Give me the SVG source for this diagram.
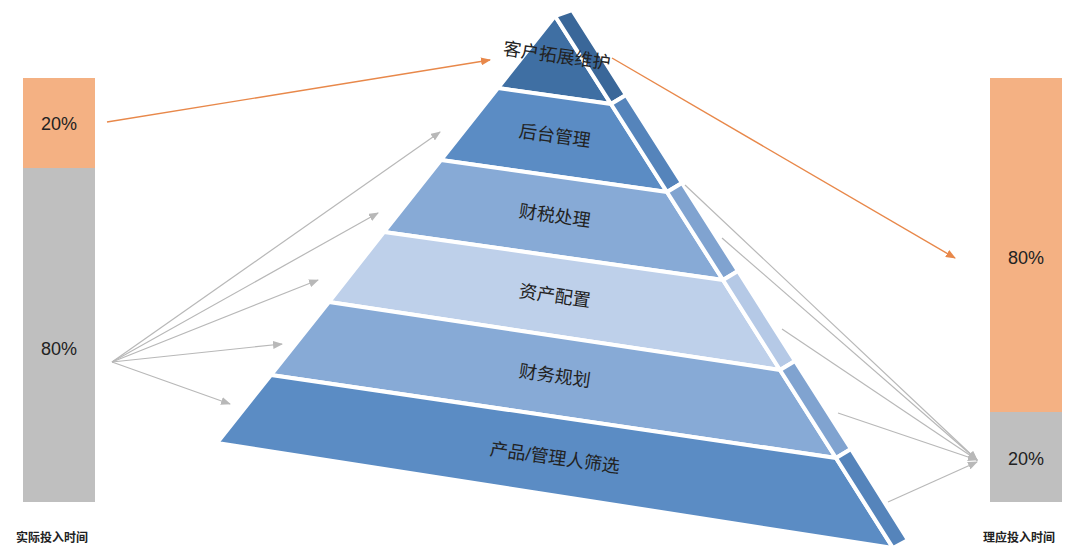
<svg xmlns="http://www.w3.org/2000/svg" width="1080" height="555" viewBox="0 0 1080 555">
<defs>
<style>
.b{stroke:#fff;stroke-width:4;stroke-linejoin:round}
.t{font-family:"Liberation Sans","Noto Sans CJK SC",sans-serif;font-size:18px;fill:#222}
.p{font-family:"Liberation Sans","Noto Sans CJK SC",sans-serif;font-size:18px;fill:#222;text-anchor:middle}
.c{font-family:"Noto Sans CJK SC",sans-serif;font-size:12px;font-weight:bold;fill:#222}
.g{stroke:#b8b8b8;stroke-width:1.2;fill:none}
.o{stroke:#e8884a;stroke-width:1.4;fill:none}
</style>
<marker id="ag" markerWidth="10" markerHeight="8" refX="9" refY="4" orient="auto" markerUnits="userSpaceOnUse"><path d="M0,0L10,4L0,8z" fill="#b8b8b8"/></marker>
<marker id="ao" markerWidth="10" markerHeight="8" refX="9" refY="4" orient="auto" markerUnits="userSpaceOnUse"><path d="M0,0L10,4L0,8z" fill="#e8884a"/></marker>
</defs>
<rect width="1080" height="555" fill="#fff"/>
<g id="bar-left">
<rect x="23" y="78" width="72" height="90" fill="#f4b183"/>
<rect x="23" y="168" width="72" height="334" fill="#bfbfbf"/>
<text class="p" x="59" y="130">20%</text>
<text class="p" x="59" y="355">80%</text>
<text class="c" x="16" y="542">实际投入时间</text>
</g>
<g id="bar-right">
<rect x="990" y="78" width="72" height="334" fill="#f4b183"/>
<rect x="990" y="412" width="72" height="90" fill="#bfbfbf"/>
<text class="p" x="1026" y="264">80%</text>
<text class="p" x="1026" y="465">20%</text>
<text class="c" x="983" y="542">理应投入时间</text>
</g>
<g id="pyramid">
<polygon class="b" fill="#3f6fa3" points="555,16 611,104 498,88"/>
<polygon class="b" fill="#3a6799" points="555,16 572,10 626,95 611,104"/>
<polygon class="b" fill="#5b8cc4" points="498,88 611,104 667,192 441,160"/>
<polygon class="b" fill="#5584bb" points="611,104 626,95 682,183 667,192"/>
<polygon class="b" fill="#87aad6" points="441,160 667,192 723,280 384,232"/>
<polygon class="b" fill="#80a3d0" points="667,192 682,183 738,271 723,280"/>
<polygon class="b" fill="#bed0ea" points="384,232 723,280 780,370 329,302"/>
<polygon class="b" fill="#b5c9e6" points="723,280 738,271 795,361 780,370"/>
<polygon class="b" fill="#87aad6" points="329,302 780,370 836,458 271,375"/>
<polygon class="b" fill="#80a3d0" points="780,370 795,361 851,449 836,458"/>
<polygon class="b" fill="#5b8cc4" points="271,375 836,458 893,548 217,443"/>
<polygon class="b" fill="#5584bb" points="836,458 851,449 908,540 893,548"/>
</g>
<g id="labels">
<text class="p" transform="translate(556,62) rotate(8)">客户拓展维护</text>
<text class="p" transform="translate(554,142) rotate(8)">后台管理</text>
<text class="p" transform="translate(554,222) rotate(8)">财税处理</text>
<text class="p" transform="translate(554,302) rotate(8)">资产配置</text>
<text class="p" transform="translate(554,382) rotate(8)">财务规划</text>
<text class="p" transform="translate(554,464) rotate(8)">产品/管理人筛选</text>
</g>
<g id="connectors">
<line class="o" x1="107" y1="122" x2="490" y2="60" marker-end="url(#ao)"/>
<line class="o" x1="612" y1="58" x2="955" y2="258" marker-end="url(#ao)"/>
<line class="g" x1="112" y1="362" x2="440" y2="132" marker-end="url(#ag)"/>
<line class="g" x1="112" y1="362" x2="378" y2="213" marker-end="url(#ag)"/>
<line class="g" x1="112" y1="362" x2="318" y2="280" marker-end="url(#ag)"/>
<line class="g" x1="112" y1="362" x2="282" y2="344" marker-end="url(#ag)"/>
<line class="g" x1="112" y1="362" x2="230" y2="404" marker-end="url(#ag)"/>
<line class="g" x1="685" y1="185" x2="977" y2="460" marker-end="url(#ag)"/>
<line class="g" x1="722" y1="238" x2="977" y2="460" marker-end="url(#ag)"/>
<line class="g" x1="782" y1="329" x2="977" y2="460" marker-end="url(#ag)"/>
<line class="g" x1="838" y1="413" x2="977" y2="460" marker-end="url(#ag)"/>
<line class="g" x1="888" y1="502" x2="977" y2="462" marker-end="url(#ag)"/>
</g>
</svg>
